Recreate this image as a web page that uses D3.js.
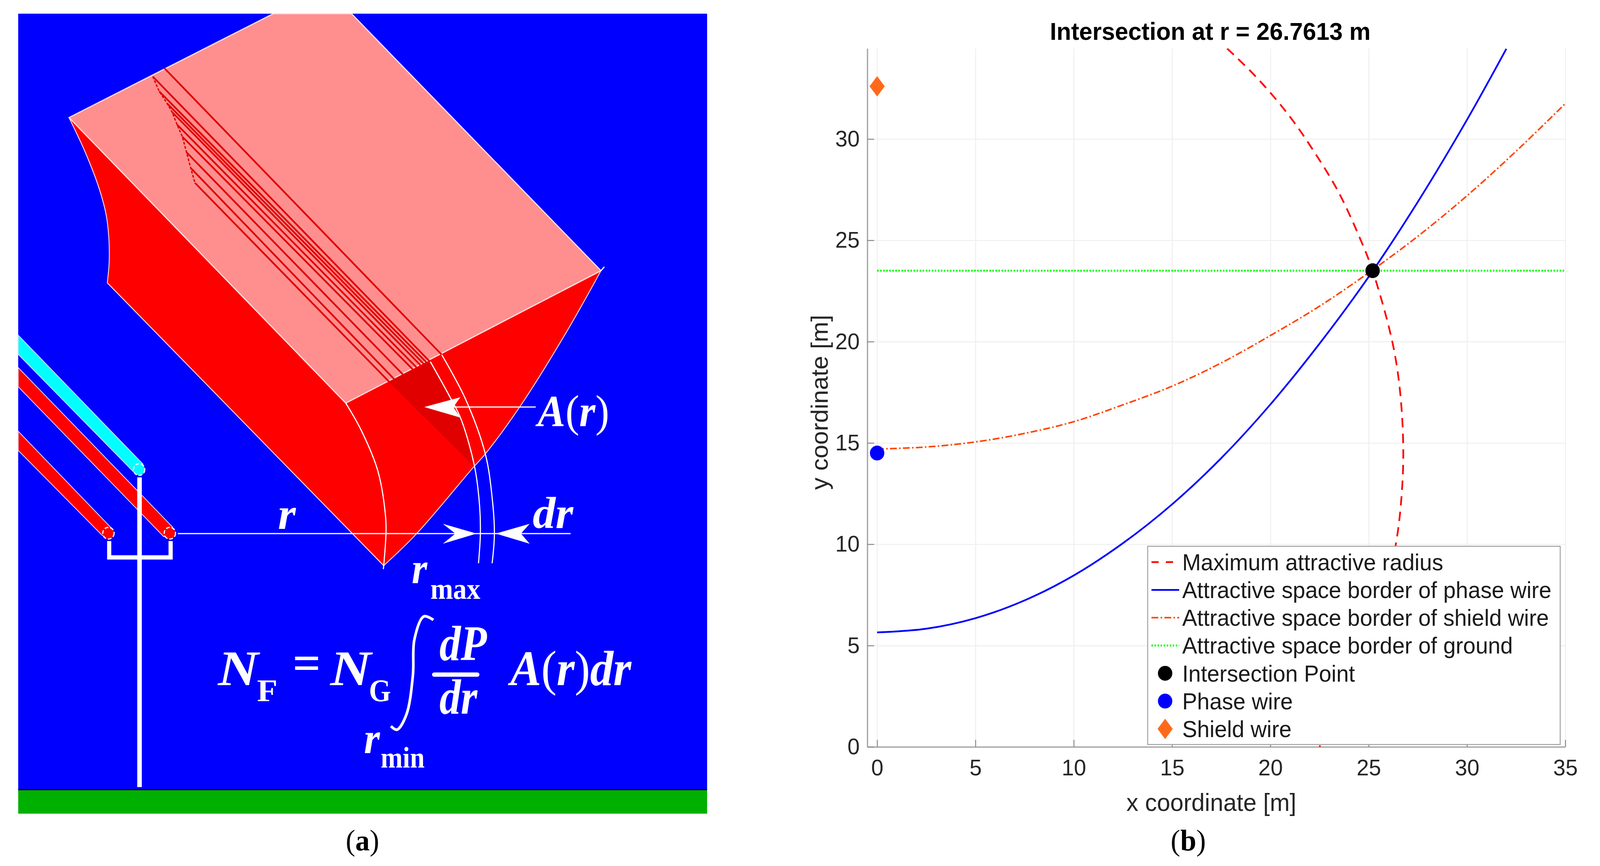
<!DOCTYPE html>
<html>
<head>
<meta charset="utf-8">
<script src="https://cdn.jsdelivr.net/npm/d3@7"></script>
<style>
  html, body { margin: 0; background: #fff; overflow: hidden; }
  svg { display: block; }
</style>
</head>
<body>
<div id="chart"></div>
<script>
// ---- panel (b) data ----
var xTicks = [0, 5, 10, 15, 20, 25, 30, 35];
var yTicks = [0, 5, 10, 15, 20, 25, 30];

var phaseX = [0, 2.5, 5, 7.5, 10, 12.5, 15, 17.5, 20, 22.5, 25, 27.5, 30, 32];
var phaseY = [5.65, 5.83, 6.35, 7.23, 8.46, 10.05, 11.97, 14.25, 16.9, 19.9, 23.2, 26.9, 30.95, 34.45];

var shieldX = [0, 2.5, 5, 7.5, 10, 12.5, 15, 17.5, 20, 22.5, 25, 27.5, 30, 32.5, 35];
var shieldY = [14.7, 14.8, 15.05, 15.47, 16.05, 16.88, 17.8, 18.95, 20.3, 21.75, 23.4, 25.2, 27.2, 29.4, 31.75];

var radiusX = [17.8, 19.14, 20.25, 21.07, 21.8, 23.4, 24.6, 25.2, 26.2, 26.6, 26.76, 26.64, 26.38, 25.8, 25, 23.9, 22.5];
var radiusY = [34.47, 33.2, 32, 31, 30, 27.5, 25, 23.5, 20, 17.5, 14.5, 12, 10, 7.5, 5, 2.5, 0];

var groundX = [0, 35];
var groundY = [23.5, 23.5];

var intersectionPoint = [25.2, 23.5];
var phaseWire = [0, 14.5];
var shieldWire = [0, 32.6];

var legendLabels = [
  "Maximum attractive radius",
  "Attractive space border of phase wire",
  "Attractive space border of shield wire",
  "Attractive space border of ground",
  "Intersection Point",
  "Phase wire",
  "Shield wire"
];

// ---- panel (a) schematic outlines, in picture units ----
var pinkFace = [[182, 301], [721, 35], [927, 35], [1585, 693], [912, 1032]];
var redLeftArc = [[182, 301], [225, 390], [261, 481], [280, 550], [287, 608], [288, 670], [283, 724]];
var redRightEdge = [[1012, 1448], [1099, 1366], [1247, 1198], [1280, 1162], [1374, 1037], [1494, 850], [1585, 693]];
var darkPatch = [[1025, 977], [1135, 926], [1186, 1015], [1216, 1073], [1252, 1196]];
var arcInner = [[912, 1032], [954, 1104], [997, 1207], [1017, 1323], [1018, 1366], [1012, 1448], [1011, 1457]];
var arcR = [[1135, 926], [1186, 1015], [1216, 1073], [1252, 1196], [1265, 1296], [1267, 1366], [1262, 1442]];
var arcDr = [[1165, 908], [1227, 1020], [1280, 1162], [1298, 1274], [1304, 1366], [1298, 1442]];
var cornerTick = [[1585, 693], [1594, 683]];
var stripeStarts = [[403, 196], [420, 234], [441, 265], [454, 287], [467, 319], [481, 350], [492, 390], [503, 430], [514, 468]];
var stripeEnds = [[1134, 926], [1127, 930], [1120, 934], [1112, 938], [1101, 943], [1091, 948], [1064, 960], [1040, 971], [1026, 977]];
var topStripe = [[434, 175], [1165, 908]];

var cyanWire = [[48, 858], [377, 1188], [352, 1208], [48, 907]];
var redWireA = [[48, 941], [455, 1349], [432, 1374], [48, 990]];
var redWireB = [[48, 1104], [293, 1351], [270, 1371], [48, 1153]];
var wireEnds = [[367, 1202, "#00ffff"], [448, 1365, "#ff0000"], [286, 1365, "#ff0000"]];
var poleLine = [[368, 1222], [368, 2015]];
var crossArm = [[288, 1385], [288, 1427], [450, 1427], [450, 1385]];

var rLeader = [[469, 1366], [1505, 1366]];
var areaLeader = [[1196, 1042], [1413, 1042]];
var rightHead = [[1257, 1366], [1168, 1341], [1201, 1366], [1168, 1392]];
var leftHead = [[1308, 1366], [1397, 1341], [1374, 1366], [1397, 1392]];
var areaHead = [[1119, 1042], [1214, 1017], [1196, 1042], [1214, 1069]];
var integralSign = [[1143, 1587], [1118, 1578], [1093, 1637], [1089, 1729], [1072, 1829], [1047, 1868], [1031, 1859]];
var fractionBar = [[1145, 1727], [1259, 1727]];

// text, x, baseline, size, width, bold italic?
var schematicTexts = [
  ["A(r)", 1418, 1091, 114, 189, true],
  ["dr", 1405, 1352, 114, 107, true],
  ["r", 733, 1354, 114, 47, true],
  ["r", 1086, 1493, 112, 41, true],
  ["max", 1135, 1533, 76, 132, false],
  ["N", 575, 1754, 128, 107, true],
  ["F", 678, 1795, 80, 54, false],
  ["=", 772, 1740, 128, 74, false],
  ["N", 871, 1754, 128, 108, true],
  ["G", 973, 1795, 80, 58, false],
  ["dP", 1159, 1690, 128, 125, true],
  ["dr", 1159, 1827, 128, 100, true],
  ["A(r)dr", 1346, 1754, 128, 319, true],
  ["r", 960, 1928, 112, 42, true],
  ["min", 1004, 1965, 76, 116, false]
];

// ---- page ----
// the window can come out narrower than the picture, so fit the whole drawing into it
var width = 4220;
var height = 2217;
var svg = d3.select("#chart").append("svg")
  .attr("width", window.innerWidth).attr("height", window.innerHeight)
  .attr("viewBox", "0 0 " + width + " " + height)
  .attr("preserveAspectRatio", "none");

// ---------- panel (a) ----------
var sx = d3.scaleIdentity();
var sy = d3.scaleIdentity();
var outline = d3.line().x(function(d) { return sx(d[0]); }).y(function(d) { return sy(d[1]); });
var smooth = d3.line().x(function(d) { return sx(d[0]); }).y(function(d) { return sy(d[1]); }).curve(d3.curveCatmullRom);

var panelA = svg.append("g");
panelA.append("rect").attr("x", 48).attr("y", 35).attr("width", 1817).attr("height", 1987).attr("fill", "#0000ff");
panelA.append("rect").attr("x", 48).attr("y", 2022).attr("width", 1817).attr("height", 61).attr("fill", "#00b000");
panelA.append("rect").attr("x", 48).attr("y", 2020).attr("width", 1817).attr("height", 3).attr("fill", "#000");

function polygon(points, fill) {
  panelA.append("path").attr("d", outline(points) + "Z").attr("fill", fill);
}
function wire(points, fill) {
  panelA.append("path").attr("d", outline(points) + "Z").attr("fill", fill)
    .attr("stroke", "#d8d8ff").attr("stroke-width", 2);
}

polygon(redLeftArc.concat(redRightEdge), "#ff0000");
panelA.append("path").attr("d", smooth(redLeftArc)).attr("fill", "none").attr("stroke", "#ffd0d0").attr("stroke-width", 2.5);
panelA.append("path").attr("d", outline([redLeftArc[redLeftArc.length - 1], redRightEdge[0]])).attr("stroke", "#ffd0d0").attr("stroke-width", 2.5);
panelA.append("path").attr("d", smooth(redRightEdge)).attr("fill", "none").attr("stroke", "#ffd0d0").attr("stroke-width", 2.5);
polygon(darkPatch, "#e00000");
panelA.append("path").attr("d", outline(pinkFace) + "Z").attr("fill", "#ff8f8f")
  .attr("stroke", "#ffe0e0").attr("stroke-width", 3);

// stripes on the pink face
stripeStarts.forEach(function(s, i) {
  panelA.append("path").attr("d", outline([s, stripeEnds[i]])).attr("fill", "none")
    .attr("stroke", "#e00000").attr("stroke-width", 4.5);
});
panelA.append("path").attr("d", outline(stripeStarts)).attr("fill", "none")
  .attr("stroke", "#e00000").attr("stroke-width", 3.5).attr("stroke-dasharray", "7 4");
panelA.append("path").attr("d", outline(topStripe)).attr("fill", "none")
  .attr("stroke", "#e00000").attr("stroke-width", 4.5);

[arcInner, arcR, arcDr].forEach(function(a) {
  panelA.append("path").attr("d", smooth(a)).attr("fill", "none")
    .attr("stroke", "#fff").attr("stroke-width", 3);
});
panelA.append("path").attr("d", outline(cornerTick)).attr("stroke", "#fff").attr("stroke-width", 3);

wire(cyanWire, "#00ffff");
wire(redWireA, "#ff0000");
wire(redWireB, "#ff0000");
wireEnds.forEach(function(e) {
  panelA.append("circle").attr("cx", sx(e[0])).attr("cy", sy(e[1])).attr("r", 15)
    .attr("fill", e[2]).attr("stroke", "#fff").attr("stroke-width", 3).attr("stroke-dasharray", "10 5");
});

panelA.append("path").attr("d", outline(poleLine)).attr("fill", "none").attr("stroke", "#fff").attr("stroke-width", 12);
panelA.append("path").attr("d", outline(crossArm)).attr("fill", "none").attr("stroke", "#fff").attr("stroke-width", 11);

panelA.append("path").attr("d", outline(rLeader)).attr("stroke", "#fff").attr("stroke-width", 3);
panelA.append("path").attr("d", outline(areaLeader)).attr("stroke", "#fff").attr("stroke-width", 3);
[rightHead, leftHead, areaHead].forEach(function(h) { polygon(h, "#fff"); });

panelA.append("path").attr("d", smooth(integralSign)).attr("fill", "none").attr("stroke", "#fff").attr("stroke-width", 7);
panelA.append("path").attr("d", outline(fractionBar)).attr("fill", "none").attr("stroke", "#fff").attr("stroke-width", 11).attr("stroke-linecap", "round");

schematicTexts.forEach(function(t) {
  var el = panelA.append("text").attr("x", t[1]).attr("y", t[2])
    .attr("font-family", "'Liberation Serif', serif").attr("font-size", t[3]).attr("fill", "#fff")
    .attr("font-weight", "bold").attr("textLength", t[4]).attr("lengthAdjust", "spacingAndGlyphs");
  if (t[5]) el.attr("font-style", "italic");
  t[0].split(/([()])/).forEach(function(part) {
    if (!part) return;
    var span = el.append("tspan").text(part);
    if (part === "(" || part === ")") span.attr("font-style", "normal").attr("font-weight", "normal");
  });
});

function caption(letter, cx, base) {
  var c = svg.append("text").attr("x", cx).attr("y", base).attr("text-anchor", "middle")
    .attr("font-family", "'Liberation Serif', serif").attr("font-size", 76).attr("fill", "#000");
  c.append("tspan").text("(");
  c.append("tspan").attr("font-weight", "bold").text(letter);
  c.append("tspan").text(")");
}
caption("a", 956, 2177);
caption("b", 3134, 2177);

// ---------- panel (b) ----------
var x = d3.scaleLinear().domain([-0.5, 35]).range([2287.5, 4128.5]);
var y = d3.scaleLinear().domain([0, 34.47]).range([1912, 124]);

var panelB = svg.append("g").attr("font-family", "'Liberation Sans', Arial, sans-serif");

svg.append("clipPath").attr("id", "plot-clip").append("rect")
  .attr("x", x(-0.5)).attr("y", y(34.47)).attr("width", x(35) - x(-0.5)).attr("height", y(0) - y(34.47));

// grid
var gridX = panelB.append("g").attr("transform", "translate(0," + y(0) + ")")
  .call(d3.axisBottom(x).tickValues(xTicks).tickSize(y(34.47) - y(0)).tickFormat(""));
var gridY = panelB.append("g").attr("transform", "translate(" + x(-0.5) + ",0)")
  .call(d3.axisLeft(y).tickValues(yTicks).tickSize(x(-0.5) - x(35)).tickFormat(""));
[gridX, gridY].forEach(function(g) {
  g.select(".domain").remove();
  g.selectAll("line").attr("stroke", "#efefef").attr("stroke-width", 2.5);
});

// axes
var axisX = panelB.append("g").attr("transform", "translate(0," + y(0) + ")")
  .call(d3.axisBottom(x).tickValues(xTicks).tickSizeInner(-18).tickSizeOuter(0).tickPadding(32));
var axisY = panelB.append("g").attr("transform", "translate(" + x(-0.5) + ",0)")
  .call(d3.axisLeft(y).tickValues(yTicks).tickSizeInner(-18).tickSizeOuter(0).tickPadding(20));
[axisX, axisY].forEach(function(g) {
  g.select(".domain").attr("stroke", "#a8a8a8").attr("stroke-width", 3.5);
  g.selectAll("line").attr("stroke", "#8a8a8a").attr("stroke-width", 2.5);
  g.selectAll("text").attr("font-size", 58).attr("font-family", "'Liberation Sans', Arial, sans-serif").attr("fill", "#262626");
});

var seriesLine = d3.line().x(function(d) { return x(d[0]); }).y(function(d) { return y(d[1]); }).curve(d3.curveCatmullRom);
var plot = panelB.append("g").attr("clip-path", "url(#plot-clip)");

var seriesStyles = [
  { xs: radiusX, ys: radiusY, color: "#ff0000", w: 4.5, dash: "24 16", sample: "19 19" },
  { xs: phaseX, ys: phaseY, color: "#0000ff", w: 4.5, dash: null, sample: null },
  { xs: shieldX, ys: shieldY, color: "#ff4500", w: 4, dash: "18 6 4 6", sample: "18 6 4 6" },
  { xs: groundX, ys: groundY, color: "#00ff00", w: 5, dash: "4 4", sample: "4 4" }
];

seriesStyles.forEach(function(s) {
  plot.append("path").datum(d3.zip(s.xs, s.ys)).attr("d", seriesLine).attr("fill", "none")
    .attr("stroke", s.color).attr("stroke-width", s.w).attr("stroke-dasharray", s.dash);
});

function diamond(g, cx, cy) {
  var shape = d3.line();
  g.append("path").attr("d", shape([[cx - 20, cy], [cx, cy - 26], [cx + 20, cy], [cx, cy + 26]]) + "Z").attr("fill", "#ff6a1a");
}

panelB.append("circle").attr("cx", x(intersectionPoint[0])).attr("cy", y(intersectionPoint[1])).attr("r", 19).attr("fill", "#000");
panelB.append("circle").attr("cx", x(phaseWire[0])).attr("cy", y(phaseWire[1])).attr("r", 19).attr("fill", "#0000ff");
diamond(panelB, x(shieldWire[0]), y(shieldWire[1]));

// title and axis labels
panelB.append("text").attr("x", 3192).attr("y", 102).attr("text-anchor", "middle")
  .attr("font-size", 63).attr("font-weight", "bold").attr("fill", "#000")
  .text("Intersection at r = 26.7613 m");
panelB.append("text").attr("x", 3195).attr("y", 2076).attr("text-anchor", "middle")
  .attr("font-size", 63).attr("fill", "#262626").text("x coordinate [m]");
panelB.append("text").attr("transform", "translate(2183,1030) rotate(-90)").attr("text-anchor", "middle")
  .attr("font-size", 63).attr("fill", "#262626").text("y coordinate [m]");

// legend
var legend = panelB.append("g");
legend.append("rect").attr("x", 3027).attr("y", 1398.5).attr("width", 1088).attr("height", 507.5)
  .attr("fill", "#fff").attr("stroke", "#a0a0a0").attr("stroke-width", 2.5);
var legendRow = d3.scalePoint().domain(d3.range(legendLabels.length)).range([1439, 1866]);

legendLabels.forEach(function(label, i) {
  var ly = legendRow(i);
  legend.append("text").attr("x", 3118).attr("y", ly + 21).attr("font-size", 59).attr("fill", "#1a1a1a").text(label);
  if (i < seriesStyles.length) {
    var s = seriesStyles[i];
    legend.append("line").attr("x1", 3037).attr("x2", 3110).attr("y1", ly).attr("y2", ly)
      .attr("stroke", s.color).attr("stroke-width", s.w).attr("stroke-dasharray", s.sample);
  } else if (i === 4) {
    legend.append("circle").attr("cx", 3073).attr("cy", ly).attr("r", 19).attr("fill", "#000");
  } else if (i === 5) {
    legend.append("circle").attr("cx", 3073).attr("cy", ly).attr("r", 19).attr("fill", "#0000ff");
  } else {
    diamond(legend, 3073, ly);
  }
});
</script>
</body>
</html>
